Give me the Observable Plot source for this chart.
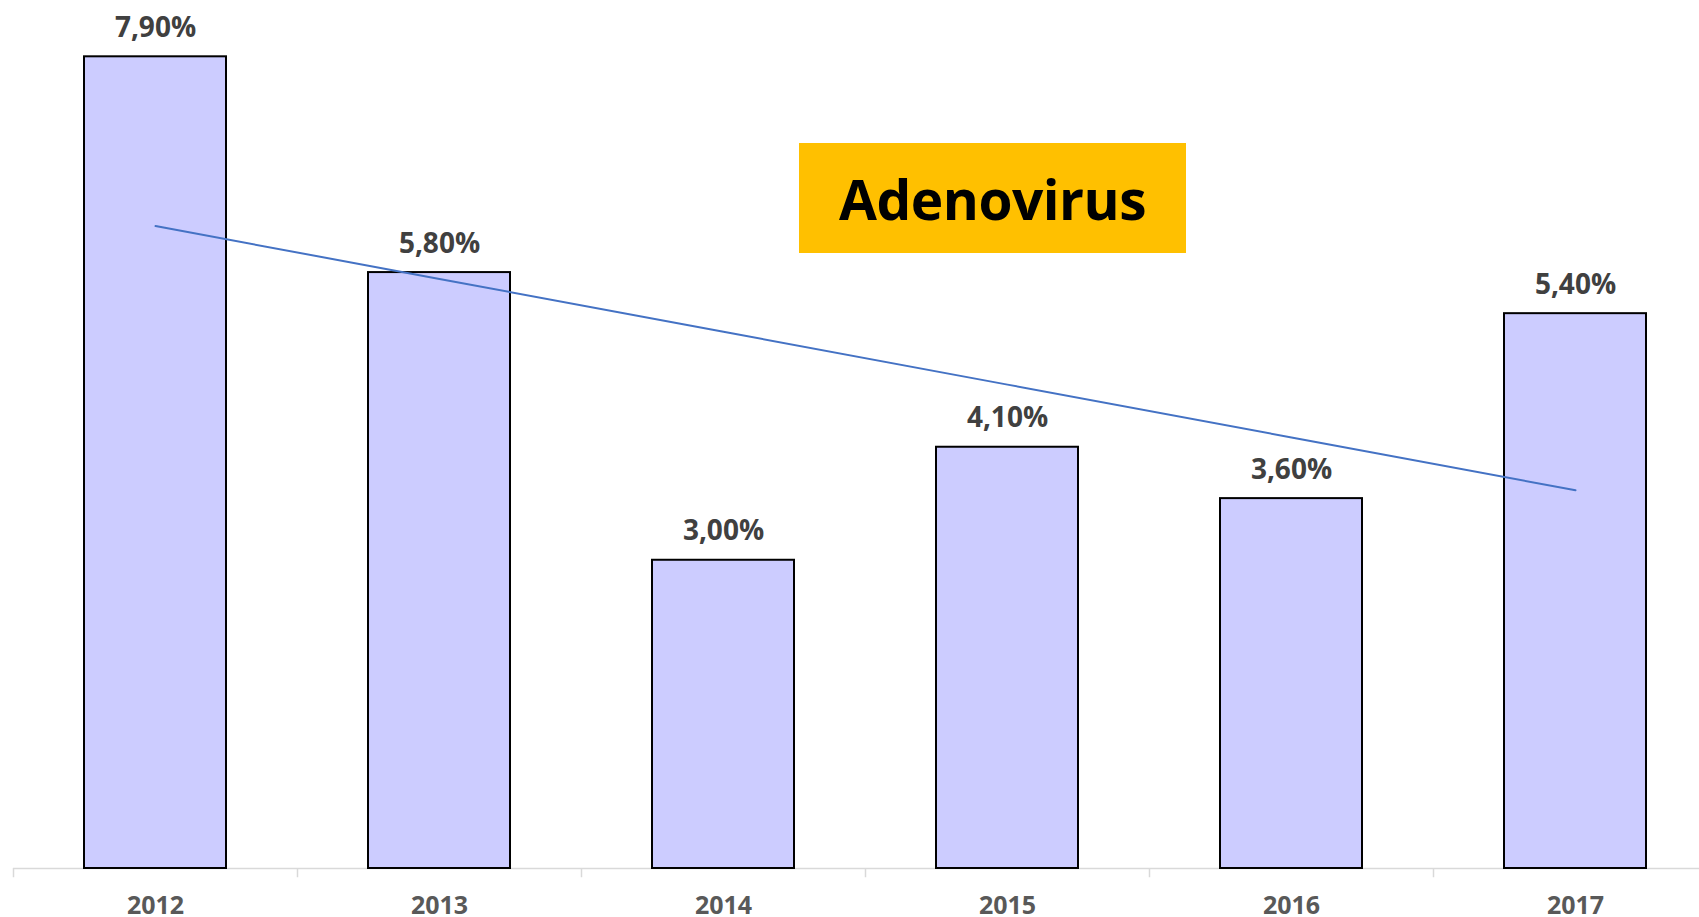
<!DOCTYPE html>
<html>
<head>
<meta charset="utf-8">
<script src="https://cdn.jsdelivr.net/npm/d3@7"></script>
<script src="https://cdn.jsdelivr.net/npm/@observablehq/plot@0.6"></script>
<style>
  html, body { margin: 0; padding: 0; background: #ffffff; }
  #wrap { position: relative; width: 1699px; height: 917px; overflow: hidden; }
  #badge {
    position: absolute; left: 799px; top: 143px; width: 387px; height: 110px;
    background: #FFC000; display: flex; align-items: center; justify-content: center;
    font-family: "Open Sans", sans-serif; font-weight: 700; font-size: 55px; color: #000;
    letter-spacing: -0.5px;
  }
</style>
</head>
<body>
<div id="wrap"><div id="badge">Adenovirus</div></div>
<script>
const years = ["2012", "2013", "2014", "2015", "2016", "2017"];
const values = [7.9, 5.8, 3.0, 4.1, 3.6, 5.4];
const title = "Adenovirus";

const data = years.map((year, i) => ({year, value: values[i]}));

// linear trend (least squares over year index)
const n = values.length;
const mx = d3.mean(d3.range(n));
const my = d3.mean(values);
const slope = d3.sum(values, (v, i) => (i - mx) * (v - my)) / d3.sum(d3.range(n), i => (i - mx) ** 2);
const trend = years.map((year, i) => ({year, value: my + slope * (i - mx)}));

const fmt = v => v.toFixed(2).replace(".", ",") + "%";

const chart = Plot.plot({
  width: 1699,
  height: 917,
  marginTop: 0,
  marginBottom: 49,
  marginLeft: 13,
  marginRight: 0,
  style: {fontFamily: "'Open Sans', sans-serif", background: "transparent"},
  x: {domain: years, range: [13, 1717], paddingInner: 0.5, paddingOuter: 0.25, label: null},
  y: {domain: [0, 8.448], axis: null},
  marks: [
    Plot.ruleY([0], {stroke: "#d9d9d9", strokeWidth: 1.5}),
    Plot.ruleX(years, {x: d => d, y1: 0, y2: -0.09, dx: -142, stroke: "#d9d9d9", strokeWidth: 1.5}),
    Plot.barY(data, {x: "year", y: "value", fill: "#CCCCFF", stroke: "#000000", strokeWidth: 2}),
    Plot.line(trend, {x: "year", y: "value", stroke: "#4472C4", strokeWidth: 2}),
    Plot.text(data, {x: "year", y: "value", text: d => fmt(d.value), dy: -29, lineAnchor: "middle",
      fontSize: 28, fontWeight: "bold", fill: "#404040"}),
    Plot.axisX({tickSize: 0, tickPadding: 28, fontSize: 25, fontWeight: "bold", fill: "#595959", label: null})
  ]
});
document.getElementById("badge").textContent = title;
document.getElementById("wrap").prepend(chart);
chart.style.position = "absolute";
chart.style.left = "0";
chart.style.top = "0";
</script>
</body>
</html>
